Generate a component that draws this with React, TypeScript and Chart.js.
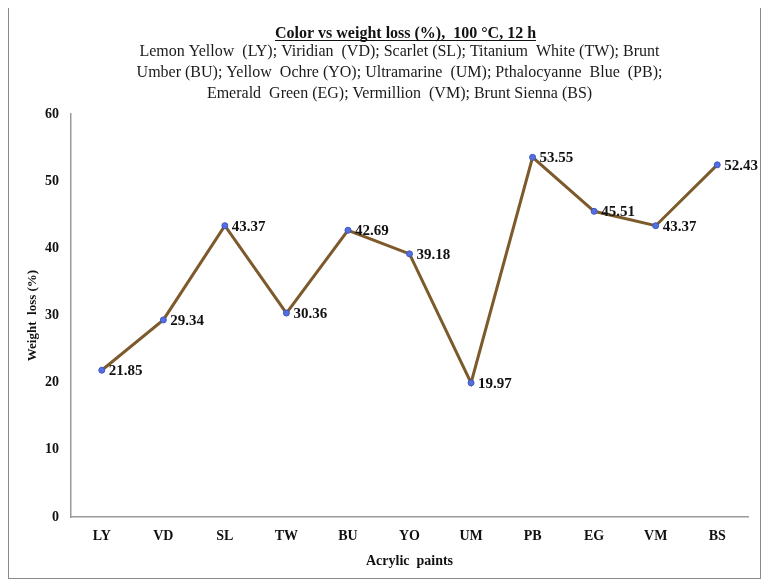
import { useEffect, useRef } from 'react'
import { Chart, registerables, type Plugin } from 'chart.js'

Chart.register(...registerables)

const paints = ['LY', 'VD', 'SL', 'TW', 'BU', 'YO', 'UM', 'PB', 'EG', 'VM', 'BS']
const weightLoss = [21.85, 29.34, 43.37, 30.36, 42.69, 39.18, 19.97, 53.55, 45.51, 43.37, 52.43]

const titleText = 'Color vs weight loss (%),  100 °C, 12 h'
const subtitleLines = [
  'Lemon Yellow  (LY); Viridian  (VD); Scarlet (SL); Titanium  White (TW); Brunt',
  'Umber (BU); Yellow  Ochre (YO); Ultramarine  (UM); Pthalocyanne  Blue  (PB);',
  'Emerald  Green (EG); Vermillion  (VM); Brunt Sienna (BS)',
]

const SERIF = '"Liberation Serif", "Times New Roman", serif'

// title + subtitle block drawn by hand so the title can be underlined
const headerPlugin: Plugin<'line'> = {
  id: 'header',
  afterDraw(chart) {
    const { ctx } = chart
    const cx = (chart.chartArea.left + chart.chartArea.right) / 2 - 10
    ctx.save()
    ctx.textAlign = 'center'
    ctx.textBaseline = 'alphabetic'
    ctx.fillStyle = '#111'
    ctx.font = `bold 16px ${SERIF}`
    const tx = cx + 6
    ctx.fillText(titleText, tx, 32)
    const w = ctx.measureText(titleText).width
    ctx.strokeStyle = '#111'
    ctx.lineWidth = 1
    ctx.beginPath()
    ctx.moveTo(tx - w / 2, 34.5)
    ctx.lineTo(tx + w / 2, 34.5)
    ctx.stroke()
    ctx.font = `16px ${SERIF}`
    ctx.fillStyle = '#1a1a1a'
    subtitleLines.forEach((line, i) => {
      ctx.fillText(line, cx, 50 + i * 21)
    })
    ctx.restore()
  },
}

const valueLabels: Plugin<'line'> = {
  id: 'valueLabels',
  afterDatasetsDraw(chart) {
    const { ctx } = chart
    const meta = chart.getDatasetMeta(0)
    ctx.save()
    ctx.font = `bold 15px ${SERIF}`
    ctx.fillStyle = '#111'
    ctx.textAlign = 'left'
    ctx.textBaseline = 'middle'
    meta.data.forEach((pt, i) => {
      ctx.fillText(weightLoss[i].toFixed(2), pt.x + 7, pt.y + 1)
    })
    ctx.restore()
  },
}

export default function App() {
  const canvasRef = useRef<HTMLCanvasElement | null>(null)

  useEffect(() => {
    const canvas = canvasRef.current
    if (!canvas) return
    Chart.getChart(canvas)?.destroy()

    const chart = new Chart(canvas, {
      type: 'line',
      data: {
        labels: paints,
        datasets: [
          {
            data: weightLoss,
            borderColor: '#7d5a2b',
            borderWidth: 3,
            backgroundColor: '#5470e0',
            pointBackgroundColor: '#5470e0',
            pointBorderColor: '#3e56c0',
            pointBorderWidth: 1,
            pointRadius: 3,
            tension: 0,
          },
        ],
      },
      options: {
        animation: false,
        responsive: true,
        maintainAspectRatio: false,
        layout: { padding: { top: 108, right: 12, left: 0, bottom: 0 } },
        plugins: {
          legend: { display: false },
          tooltip: { enabled: false },
          title: { display: false },
        },
        scales: {
          x: {
            offset: true,
            afterFit: (scale) => {
              scale.height = 61
            },
            grid: { display: false, drawTicks: false },
            border: { color: '#9a9a9a', width: 1.5 },
            ticks: {
              padding: 11,
              color: '#111',
              font: { family: SERIF, size: 14, weight: 'bold' },
            },
            title: {
              display: true,
              text: 'Acrylic  paints',
              color: '#111',
              padding: { top: 0, bottom: 8 },
              font: { family: SERIF, size: 14, weight: 'bold' },
            },
          },
          y: {
            min: 0,
            max: 60,
            afterFit: (scale) => {
              scale.width = 62
            },
            grid: { display: false, drawTicks: false },
            border: { color: '#9a9a9a', width: 1.5 },
            ticks: {
              stepSize: 10,
              padding: 12,
              color: '#111',
              font: { family: SERIF, size: 14, weight: 'bold' },
            },
            title: {
              display: true,
              text: 'Weight  loss (%)',
              color: '#111',
              padding: { top: 16, bottom: 0 },
              font: { family: SERIF, size: 13, weight: 'bold' },
            },
          },
        },
      },
      plugins: [headerPlugin, valueLabels],
    })

    return () => chart.destroy()
  }, [])

  return (
    <div
      style={{
        width: 753,
        height: 574,
        marginTop: -3,
        border: '1px solid #8a8a8a',
        boxSizing: 'border-box',
        position: 'relative',
        background: '#fff',
      }}
    >
      <canvas ref={canvasRef} />
    </div>
  )
}
